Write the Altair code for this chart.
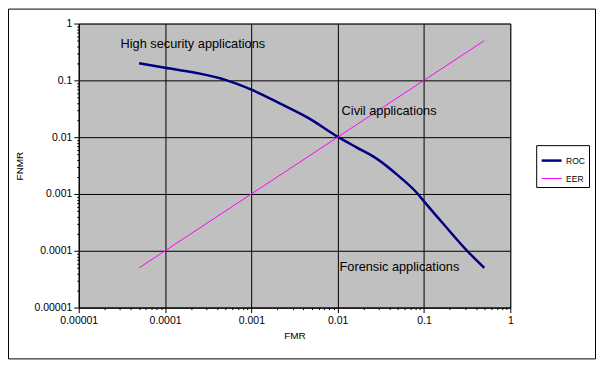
import altair as alt
import pandas as pd

# ---- data ----
roc_fmr = [0.00005, 0.0001, 0.00023, 0.0005, 0.001, 0.0021, 0.0046, 0.01,
           0.0163, 0.0277, 0.0515, 0.083, 0.1, 0.17, 0.316, 0.5]
roc_fnmr = [0.2, 0.166, 0.135, 0.102, 0.0686, 0.0399, 0.0217, 0.0102,
            0.00668, 0.00428, 0.00204, 0.00104, 0.00074, 0.00029, 0.0001, 0.00005]

eer_fmr = [0.00005, 0.5]
eer_fnmr = [0.00005, 0.5]

note_text = ["High security applications", "Civil applications", "Forensic applications"]
note_fmr = [0.0000305, 0.0111, 0.0105]
note_fnmr = [0.43, 0.0286, 0.000052]

series_names = ["ROC", "EER"]
series_colors = ["#000080", "#FF00FF"]

FONT = "Liberation Sans"

lines = pd.DataFrame({
    "FMR": roc_fmr + eer_fmr,
    "FNMR": roc_fnmr + eer_fnmr,
    "series": ["ROC"] * len(roc_fmr) + ["EER"] * len(eer_fmr),
    "order": list(range(len(roc_fmr))) + list(range(len(eer_fmr))),
})
notes = pd.DataFrame({"FMR": note_fmr, "FNMR": note_fnmr, "text": note_text})

MAJOR = "abs(log(datum.value)/LN10 - round(log(datum.value)/LN10)) < 1e-6"


def log_axis(title, **kw):
    return alt.Axis(
        title=title,
        tickCount=20,
        labelExpr=f"({MAJOR}) ? format(datum.value, '.5~f') : ''",
        labelOverlap=False,
        labelFlush=False,
        grid=True,
        gridColor="black",
        gridWidth=1,
        gridOpacity={"condition": {"test": MAJOR, "value": 1}, "value": 0},
        tickSize={"condition": {"test": MAJOR, "value": 5}, "value": 2},
        tickColor="black",
        domainColor="black",
        labelFont=FONT,
        labelFontSize=10.5,
        labelColor="black",
        titleFont=FONT,
        titleFontSize=10,
        titleFontWeight="normal",
        titleColor="black",
        **kw,
    )


xscale = alt.Scale(type="log", domain=[0.00001, 1], nice=False)
yscale = alt.Scale(type="log", domain=[0.00001, 1], nice=False)

line_layer = alt.Chart(lines).mark_line(clip=True, interpolate="monotone").encode(
    x=alt.X("FMR:Q", scale=xscale, axis=log_axis("FMR", labelPadding=3, titlePadding=5)),
    y=alt.Y("FNMR:Q", scale=yscale, axis=log_axis("FNMR", labelPadding=2, titlePadding=9)),
    color=alt.Color(
        "series:N",
        scale=alt.Scale(domain=series_names, range=series_colors),
        sort=series_names,
        legend=alt.Legend(
            title=None,
            orient="none",
            legendX=459,
            legendY=122,
            symbolType="stroke",
            symbolSize=400,
            symbolStrokeWidth=1.5,
            labelFont=FONT,
            labelFontSize=8.5,
            labelColor="black",
            labelOffset=3,
            rowPadding=2,
            padding=4,
            strokeColor="black",
            fillColor="white",
        ),
    ),
    strokeWidth=alt.StrokeWidth(
        "series:N",
        scale=alt.Scale(domain=series_names, range=[2.5, 1]),
        legend=None,
    ),
    order="order:Q",
)

text_layer = alt.Chart(notes).mark_text(
    align="left", baseline="middle", font=FONT, fontSize=12.8, color="black"
).encode(x="FMR:Q", y="FNMR:Q", text="text:N")

frame = alt.Chart(pd.DataFrame({"a": [0]})).mark_rect(
    fill=None, stroke="black", strokeWidth=1
).encode(
    x=alt.value(-70.5), x2=alt.value(518.5), y=alt.value(-14.5), y2=alt.value(336.5)
)

chart = alt.layer(line_layer, text_layer, frame).properties(
    width=433,
    height=285,
    autosize=alt.AutoSizeParams(type="none"),
    padding={"left": 71, "top": 15, "right": 86, "bottom": 52},
    background="white",
).configure_view(
    fill="#C0C0C0", stroke="#808080", strokeWidth=1
)

chart.save("out.html", embed_options={"renderer": "svg", "actions": False})
